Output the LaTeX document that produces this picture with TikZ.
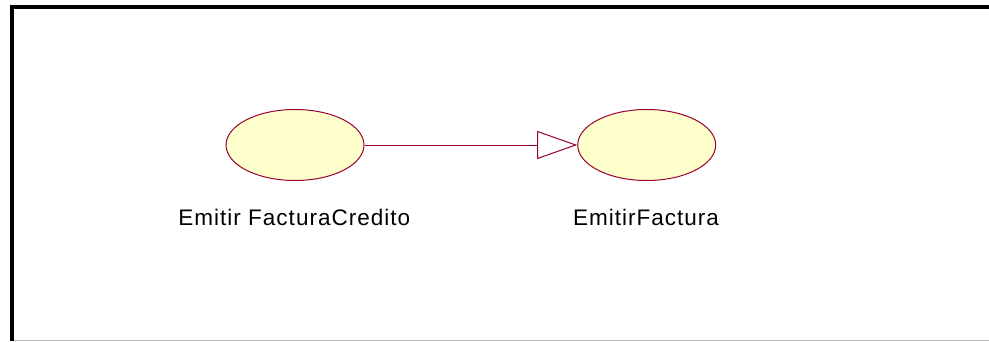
\documentclass[tikz,border=0pt]{standalone}
\usepackage{fontspec}
\usetikzlibrary{shapes.geometric,arrows.meta}
\newfontfamily\labfont[LetterSpace=4.5]{Liberation Sans}
\definecolor{ucline}{RGB}{153,0,51}
\definecolor{ucfill}{RGB}{255,255,204}
\definecolor{framegray}{RGB}{187,187,187}
\begin{document}
\begin{tikzpicture}[x=1pt,y=-1pt,
  usecase/.style={ellipse,draw=ucline,fill=ucfill,line width=1pt,minimum width=138pt,minimum height=71pt,inner sep=0pt},
  uclabel/.style={anchor=base,inner sep=0pt,font=\labfont\fontsize{22.5pt}{26pt}\selectfont},
  generalization/.style={draw=ucline,line width=1pt,-{Triangle[open,length=40pt,width=28pt]}}]
\useasboundingbox (0,0) rectangle (989,341);
\fill[white] (0,0) rectangle (989,341);
\draw[framegray,line width=1pt] (12,340) -- (989,340);
\draw[black,line width=4pt] (12,341) -- (12,7) -- (989,7);
\node[usecase] (e1) at (295,145) {};
\node[usecase] (e2) at (646.7,145) {};
\node[uclabel] (l1) at (294.3,225) {Emitir FacturaCredito};
\node[uclabel] (l2) at (646,225) {EmitirFactura};
\draw[generalization] (e1.east) -- (e2.west);
\end{tikzpicture}
\end{document}
